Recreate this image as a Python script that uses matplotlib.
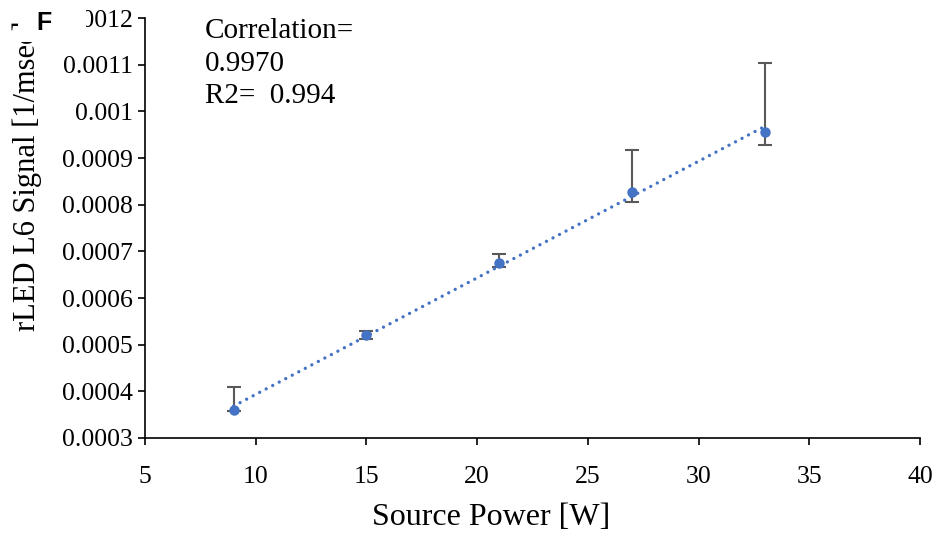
import numpy as np
import matplotlib
matplotlib.use("Agg")
import matplotlib.pyplot as plt
from matplotlib.patches import Rectangle

power = [9, 15, 21, 27, 33]
signal = [0.000360, 0.000521, 0.000676, 0.000828, 0.000956]
err_upper = [0.000049, 0.000009, 0.000018, 0.000090, 0.000148]
err_lower = [0.000002, 0.000008, 0.000010, 0.000022, 0.000028]
xticks = [5, 10, 15, 20, 25, 30, 35, 40]
yticks = [0.0003, 0.0004, 0.0005, 0.0006, 0.0007, 0.0008, 0.0009, 0.001, 0.0011, 0.0012]
ytick_labels = ["0.0003", "0.0004", "0.0005", "0.0006", "0.0007", "0.0008",
                "0.0009", "0.001", "0.0011", "0.0012"]
stats_text = "Correlation=\n0.9970\nR2=  0.994"

plt.rcParams['font.family'] = ['Liberation Serif', 'DejaVu Serif']

W, H = 936, 540
fig = plt.figure(figsize=(W/100, H/100), dpi=100)
ax = fig.add_axes([145/W, 1-438/H, (920-145)/W, (438-18)/H])

blue = '#4472C4'
grey = '#595959'

ax.errorbar(power, signal, yerr=[err_lower, err_upper], fmt='none',
            ecolor=grey, elinewidth=1.5, capsize=5, capthick=1.5, zorder=2)
ax.plot(power, signal, 'o', color=blue, markersize=6.5, zorder=3)

coef = np.polyfit(power, signal, 1)
xs = np.array([power[0], power[-1]])
ax.plot(xs, np.polyval(coef, xs), linestyle=(0, (0.01, 2.2)), color=blue,
        linewidth=2.4, dash_capstyle='round', zorder=2)

ax.set_xlim(5, 40)
ax.set_ylim(0.0003, 0.0012)
ax.set_xticks(xticks)
ax.set_yticks(yticks)
ax.set_yticklabels(ytick_labels)
ax.tick_params(axis='both', labelsize=18.5, direction='out', length=5,
               width=1.2, colors='black')
ax.tick_params(axis='y', pad=4)
ax.tick_params(axis='x', pad=15)
for s in ['top', 'right']:
    ax.spines[s].set_visible(False)
for s in ['left', 'bottom']:
    ax.spines[s].set_linewidth(1.2)
    ax.spines[s].set_color('black')

fig.text(491.5/W, 1-525/H, "Source Power [W]", ha='center', va='baseline',
         fontsize=23)
fig.text(27/W, 1-331/H, "rLED L6 Signal [1/msec]", rotation=90,
         ha='center', va='bottom', fontsize=22)

fig.text(205/W, 1-18/H, stats_text, ha='left', va='top', fontsize=21,
         linespacing=1.33)

fig.patches.append(Rectangle((18/W, 1-42/H), 68/W, 42/H,
                             transform=fig.transFigure, facecolor='white',
                             edgecolor='none', zorder=5))
fig.text(36/W, 1-30/H, "F", fontsize=18, fontweight='bold',
         family=['Liberation Sans', 'DejaVu Sans'], ha='left', va='baseline',
         zorder=6)

fig.savefig("out.png", dpi=100)
